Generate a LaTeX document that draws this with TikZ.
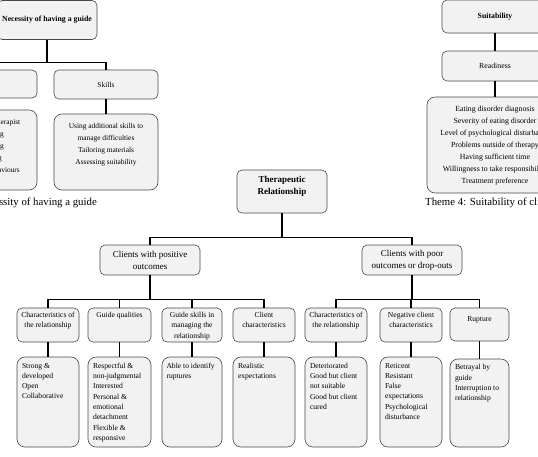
\documentclass[tikz,border=0pt]{standalone}
\usepackage{fontspec}
\setmainfont{Liberation Serif}
\usepackage{tikz}
\definecolor{boxfill}{RGB}{242,242,242}
\definecolor{boxline}{RGB}{72,72,72}
\newcommand{\fsz}[2]{\fontsize{#1}{#2}\selectfont}
\newcommand{\toptext}[3]{\parbox[c][#1][t]{#2}{#3}}
\tikzset{box/.style={draw=boxline,fill=boxfill,line width=0.6pt,rounded corners=5pt,inner sep=0pt,align=center},
 listbox/.style={box,rounded corners=8pt},
 branch/.style={line width=1.2pt},
 caption/.style={inner sep=0pt,font=\fsz{10.8}{13}}}

\begin{document}
\begin{tikzpicture}[x=1pt,y=-1pt]
\useasboundingbox (0,0) rectangle (538,456);
\clip (0,0) rectangle (538,456);
% theme 3 (cut at the left edge)
\node[box,font=\bfseries\fsz{7.8}{10},minimum width=100pt,minimum height=39pt] (guide) at (47,20) {Necessity of having a guide};
\node[box,minimum width=104pt,minimum height=28pt] (role) at (-15,84) {};
\node[box,font=\fsz{7.5}{12},minimum width=104pt,minimum height=29pt] (skills) at (106,84.5) {Skills};
\node[listbox,font=\fsz{7.4}{12},minimum width=104pt,minimum height=80pt] (role-list) at (-15,150) {\toptext{61pt}{100pt}{\centering Different from therapist\\Encouraging\\Empathising\\Monitoring\\Reinforcing behaviours}};
\node[listbox,font=\fsz{7.4}{12},minimum width=104pt,minimum height=76pt] (skills-list) at (106,152) {\toptext{57pt}{100pt}{\centering Using additional skills to\\manage difficulties\\Tailoring materials\\Assessing suitability}};
\draw[branch] (guide.south) -- ++(0,23) -| (role.north);
\draw[branch] (guide.south) -- ++(0,23) -| (skills.north);
\draw[branch] (role.south) -- (role-list.north);
\draw[branch] (skills.south) -- (skills-list.north);
\node[caption,anchor=base east] (cap3) at (97,205) {Theme 3: Necessity of having a guide};
% theme 4 (cut at the right edge)
\node[box,font=\bfseries\fsz{7.8}{10},minimum width=106pt,minimum height=33pt] (suit) at (495,16.5) {Suitability};
\node[box,font=\fsz{7.8}{12},minimum width=106pt,minimum height=30pt] (ready) at (495,66) {Readiness};
\node[listbox,font=\fsz{7.8}{12},minimum width=136pt,minimum height=96pt] (ready-list) at (495,145) {\toptext{77pt}{132pt}{\centering Eating disorder diagnosis\\Severity of eating disorder\\Level of psychological disturbance\\Problems outside of therapy\\Having sufficient time\\Willingness to take responsibility\\Treatment preference}};
\draw[branch] (suit.south) -- (ready.north);
\draw[branch] (ready.south) -- (ready-list.north);
\node[caption,anchor=base west] (cap4) at (425,205) {Theme 4: Suitability of clients};
% therapeutic relationship
\node[box,font=\bfseries\fsz{9}{12},minimum width=90pt,minimum height=43pt] (ther) at (282,191.5) {\toptext{31pt}{86pt}{\centering Therapeutic\\Relationship}};
\node[box,font=\fsz{9}{12},minimum width=100pt,minimum height=30pt] (pos) at (150,260) {Clients with positive\\outcomes};
\node[box,font=\fsz{9}{12},minimum width=100pt,minimum height=30pt] (poor) at (412,260) {Clients with poor\\outcomes or drop-outs};
\draw[branch] (ther.south) -- ++(0,24) -| (pos.north);
\draw[branch] (ther.south) -- ++(0,24) -| (poor.north);
\begin{scope}[every node/.style={font=\fsz{7.6}{10.5}}]
\node[box,minimum width=62pt,minimum height=34pt] (posrel) at (48,325) {\toptext{26pt}{60pt}{\centering Characteristics of\\the relationship}};
\node[box,minimum width=63pt,minimum height=34pt] (posqual) at (119.5,325) {\toptext{26pt}{60pt}{\centering Guide qualities}};
\node[box,minimum width=60pt,minimum height=34pt] (posskill) at (192,325) {\toptext{26pt}{58pt}{\centering Guide skills in\\managing the\\relationship}};
\node[box,minimum width=62pt,minimum height=34pt] (posclient) at (264,325) {\toptext{26pt}{60pt}{\centering Client\\characteristics}};
\node[box,minimum width=62pt,minimum height=34pt] (poorrel) at (336,325) {\toptext{26pt}{60pt}{\centering Characteristics of\\the relationship}};
\node[box,minimum width=62pt,minimum height=34pt] (poorclient) at (411,325) {\toptext{26pt}{60pt}{\centering Negative client\\characteristics}};
\node[box,minimum width=59pt,minimum height=33pt] (rupture) at (479.5,324.5) {\toptext{16pt}{57pt}{\centering Rupture}};
\end{scope}
\begin{scope}[every node/.style={font=\fsz{7.6}{10.3}}]
\node[listbox,minimum width=62pt,minimum height=90pt] (posrel-list) at (48,402) {\toptext{78pt}{52pt}{\raggedright Strong \&\\developed\\Open\\Collaborative}};
\node[listbox,minimum width=63pt,minimum height=90pt] (posqual-list) at (119.5,402) {\toptext{78pt}{53pt}{\raggedright Respectful \&\\non-judgmental\\Interested\\Personal \&\\emotional\\detachment\\Flexible \&\\responsive}};
\node[listbox,minimum width=60pt,minimum height=90pt] (posskill-list) at (192,402) {\toptext{78pt}{51pt}{\raggedright Able to identify\\ruptures}};
\node[listbox,minimum width=62pt,minimum height=90pt] (posclient-list) at (264,402) {\toptext{78pt}{52pt}{\raggedright Realistic\\expectations}};
\node[listbox,minimum width=62pt,minimum height=90pt] (poorrel-list) at (336,402) {\toptext{78pt}{52pt}{\raggedright Deteriorated\\Good but client\\not suitable\\Good but client\\cured}};
\node[listbox,minimum width=62pt,minimum height=90pt] (poorclient-list) at (411,402) {\toptext{78pt}{52pt}{\raggedright Reticent\\Resistant\\False\\expectations\\Psychological\\disturbance}};
\node[listbox,minimum width=59pt,minimum height=88pt] (rupture-list) at (479.5,403) {\toptext{77pt}{49pt}{\raggedright Betrayal by\\guide\\Interruption to\\relationship}};
\end{scope}
\foreach \c in {posrel,posqual,posskill,posclient}
  \draw[branch] (pos.south) -- ++(0,24) -| (\c.north);
\foreach \c in {poorrel,poorclient,rupture}
  \draw[branch] (poor.south) -- ++(0,24) -| (\c.north);
\foreach \c in {posrel,posqual,posskill,posclient,poorrel,poorclient,rupture}
  \draw[branch] (\c.south) -- (\c-list.north);
\end{tikzpicture}
\end{document}
